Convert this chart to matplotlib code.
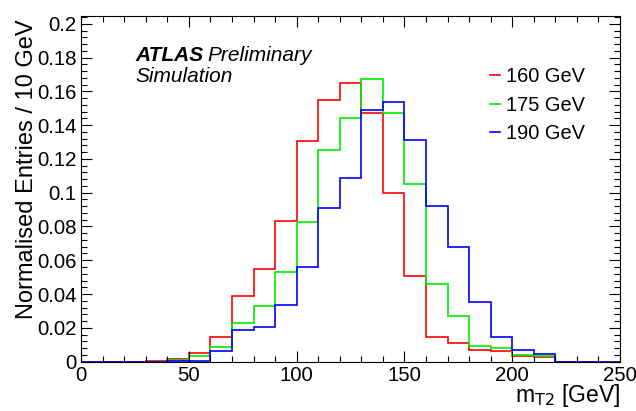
import numpy as np
import matplotlib
matplotlib.use("Agg")
import matplotlib.pyplot as plt
from matplotlib.ticker import MultipleLocator, FuncFormatter

plt.rcParams['font.family'] = ['Liberation Sans', 'DejaVu Sans']

# bin edges 0..250 GeV in 10 GeV steps
edges = np.arange(0, 260, 10)

labels = ["160 GeV", "175 GeV", "190 GeV"]
colors = ["#ff0000", "#00ee00", "#0000ff"]

# normalised entries per 10 GeV bin (25 bins)
m160 = [0, 0, 0, 0.0004, 0.0015, 0.0052, 0.0145, 0.0387, 0.055, 0.0835,
        0.1305, 0.155, 0.165, 0.1475, 0.0999, 0.0507, 0.0145, 0.0109, 0.0071,
        0.0061, 0.0035, 0.0029, 0, 0, 0]
m175 = [0, 0, 0, 0, 0.0008, 0.0033, 0.0085, 0.0228, 0.0327, 0.0528,
        0.0829, 0.1254, 0.1444, 0.1676, 0.1472, 0.1054, 0.0458, 0.027, 0.0091,
        0.0081, 0.0038, 0.0032, 0, 0, 0]
m190 = [0, 0, 0, 0, 0.0001, 0.0005, 0.0061, 0.0185, 0.0204, 0.0337,
        0.0558, 0.0909, 0.1087, 0.1488, 0.1538, 0.1311, 0.0919, 0.068, 0.0355,
        0.0145, 0.007, 0.0043, 0, 0, 0]

fig = plt.figure(figsize=(6.36, 4.11), dpi=100)
ax = fig.add_axes([0.1274, 0.1204, 0.8475, 0.8406])

for vals, lab, col in zip([m160, m175, m190], labels, colors):
    ax.stairs(vals, edges, color=col, lw=1.2, label=lab)

ax.set_xlim(0, 250)
ax.set_ylim(0, 0.2047)

ax.xaxis.set_major_locator(MultipleLocator(50))
ax.xaxis.set_minor_locator(MultipleLocator(10))
ax.yaxis.set_major_locator(MultipleLocator(0.02))
ax.yaxis.set_minor_locator(MultipleLocator(0.004))
ax.yaxis.set_major_formatter(FuncFormatter(lambda v, p: "%g" % round(v, 3)))

ax.tick_params(which='both', direction='in', top=True, right=True,
               labelsize=14.7, width=0.8)
ax.tick_params(which='major', length=8)
ax.tick_params(which='minor', length=4)
ax.tick_params(axis='x', pad=3)
ax.tick_params(axis='y', pad=3)

ax.set_ylabel("Normalised Entries / 10 GeV", fontsize=17, ha='right')
ax.yaxis.set_label_coords(-0.08, 0.99)
ax.set_xlabel(r"m$_{\rm T2}$ [GeV]", fontsize=16.5, ha='right', va='top')
ax.xaxis.set_label_coords(1.0, -0.06)

ax.text(0.1, 0.87, "ATLAS", transform=ax.transAxes, fontsize=15,
        fontweight='bold', style='italic')
ax.text(0.234, 0.87, "Preliminary", transform=ax.transAxes, fontsize=15,
        style='italic')
ax.text(0.1, 0.809, "Simulation", transform=ax.transAxes, fontsize=15,
        style='italic')

ax.legend(loc='upper left', bbox_to_anchor=(0.759, 0.852), frameon=False,
          fontsize=14.4, handlelength=0.5, handletextpad=0.3,
          labelspacing=0.48, borderaxespad=0, borderpad=0)

for s in ax.spines.values():
    s.set_linewidth(0.8)

fig.savefig("out.png", dpi=100)
